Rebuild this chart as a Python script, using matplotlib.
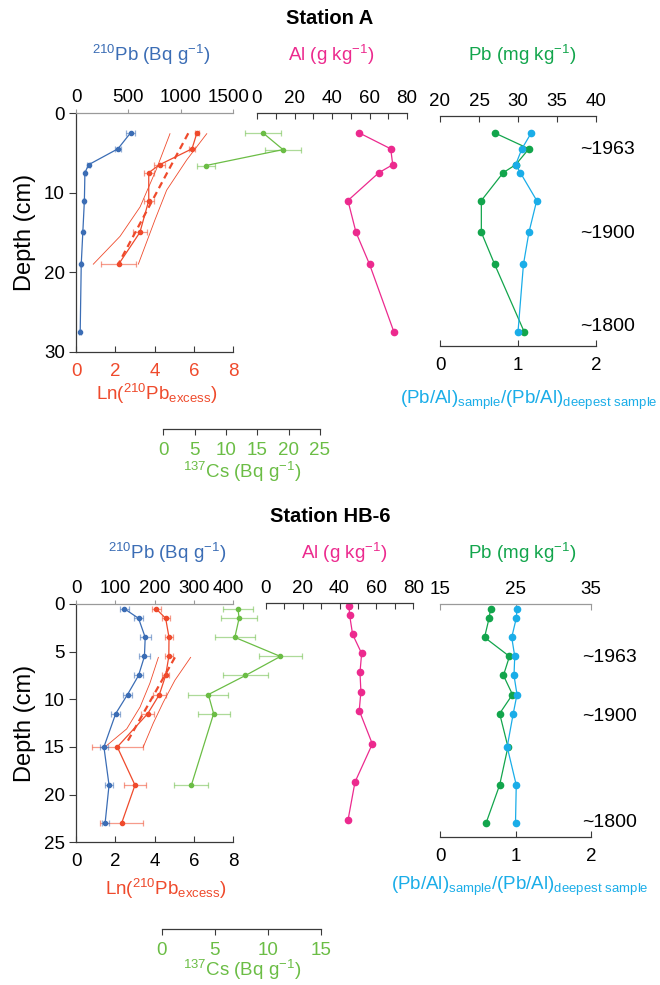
"""Sediment core depth profiles for Station A and Station HB-6."""

import matplotlib.pyplot as plt
import matplotlib.transforms as mtransforms

plt.rcParams['font.family'] = ['Liberation Sans', 'DejaVu Sans']
plt.rcParams['mathtext.default'] = 'regular'

# ---- Station A -------------------------------------------------------------
a_depth = [2.5, 4.5, 6.5, 7.5, 11, 15, 19, 27.5]
a_pb210 = [520, 400, 120, 85, 80, 65, 50, 40]
a_pb210_err = [40, 28, 15, 10, 10, 8, 8, 8]
a_ln_depth = [2.5, 4.5, 6.5, 7.5, 11, 15, 19]
a_ln = [6.15, 5.9, 4.25, 3.7, 3.7, 3.25, 2.17]
a_ln_err = [0.12, 0.15, 0.28, 0.25, 0.25, 0.37, 0.88]
a_fit_depth = [2.55, 19.0]
a_fit_ln = [5.71, 2.15]
a_band_lo_depth = [2.6, 7.0, 11.8, 15.5, 19.0]
a_band_lo = [4.78, 4.1, 3.26, 2.24, 0.88]
a_band_hi_depth = [2.6, 5.9, 9.7, 13.4, 19.0]
a_band_hi = [6.65, 5.63, 4.61, 4.02, 3.17]
a_cs_depth = [2.5, 4.6, 6.6]
a_cs = [15.9, 19.1, 6.8]
a_cs_err = [2.8, 2.9, 1.5]
a_al = [54.5, 71.3, 72.4, 65.0, 48.5, 52.8, 60.0, 73.0]
a_pb = [27.0, 31.4, 29.7, 28.1, 25.3, 25.3, 27.0, 30.8]
a_ratio = [1.17, 1.05, 0.97, 1.03, 1.24, 1.14, 1.07, 1.0]
a_dates = ['~1963', '~1900', '~1800']
a_date_depth = [4.65, 15.2, 26.85]

# ---- Station HB-6 ----------------------------------------------------------
b_depth = [0.5, 1.5, 3.5, 5.5, 7.5, 9.5, 11.5, 15, 19, 23]
b_pb210 = [123, 159, 176, 174, 159, 131, 101, 71, 84, 74]
b_pb210_err = [11, 12, 14, 13, 12, 12, 11, 10, 9, 9]
b_ln = [4.07, 4.56, 4.73, 4.72, 4.56, 4.24, 3.65, 2.10, 3.0, 2.32]
b_ln_err = [0.23, 0.2, 0.19, 0.19, 0.17, 0.32, 0.34, 1.3, 0.56, 1.1]
b_fit_depth = [5.6, 14.7]
b_fit_ln = [5.03, 2.54]
b_band_lo_depth = [5.6, 8.3, 10.8, 13.1, 14.9]
b_band_lo = [4.19, 3.76, 3.26, 2.58, 1.53]
b_band_hi_depth = [5.6, 8.0, 10.3, 12.5, 15.0]
b_band_hi = [5.83, 5.03, 4.44, 3.93, 3.42]
b_cs_depth = [0.5, 1.5, 3.5, 5.5, 7.5, 9.5, 11.5, 19]
b_cs = [7.2, 7.3, 6.9, 11.2, 7.9, 4.4, 4.9, 2.8]
b_cs_err = [1.4, 1.7, 1.9, 2.0, 2.1, 1.9, 1.5, 1.6]
b_al = [45.1, 45.5, 47.1, 52.0, 51.1, 51.6, 50.7, 57.8, 48.4, 44.6]
b_pb = [21.7, 21.5, 20.9, 24.2, 23.4, 24.6, 22.9, 24.0, 22.9, 21.1]
b_ratio = [1.02, 1.01, 0.95, 0.99, 0.98, 1.02, 0.97, 0.89, 1.01, 1.0]
b_dates = ['~1963', '~1900', '~1800']
b_date_depth = [5.63, 11.83, 22.95]

BLUE = '#3B6DB5'
RED = '#EF4A2C'
CS_GREEN = '#6BBD45'
PINK = '#EC2A8E'
PB_GREEN = '#12A54C'
CYAN = '#1AADE8'
AXIS = '#3a3a3a'
GREY_AXIS = '#9a9a9a'
FS = 13.5

W, H = 660, 985
fig = plt.figure(figsize=(W / 100, H / 100), dpi=100)


def px_box(x0, y0, x1, y1):
    return [x0 / W, 1 - y1 / H, (x1 - x0) / W, (y1 - y0) / H]


def px_text(x, y, s, **kw):
    kw.setdefault('ha', 'center')
    kw.setdefault('fontsize', FS)
    fig.text(x / W, 1 - y / H, s, va='center', **kw)


def bare_axes(rect, ylim, show, xlim, xticks, where='bottom', spine=AXIS):
    ax = fig.add_axes(rect)
    ax.patch.set_visible(False)
    for side, sp in ax.spines.items():
        sp.set_visible(side in show)
        sp.set_color(spine)
        sp.set_linewidth(0.9)
    ax.set_ylim(*ylim)
    ax.set_xlim(*xlim)
    ax.set_xticks(xticks)
    if where == 'top':
        ax.xaxis.tick_top()
    ax.tick_params(axis='x', direction='in', length=4, width=0.8,
                   pad=4 if where == 'top' else 8, labelsize=FS, color=spine)
    ax.tick_params(axis='y', left=False, labelleft=False)
    return ax


def profile(ax, x, depth, color, ms, xerr=None):
    if xerr is not None:
        ax.errorbar(x, depth, xerr=xerr, fmt='none', ecolor=color, alpha=0.55,
                    elinewidth=0.9, capsize=2.2, capthick=0.9)
    ax.plot(x, depth, color=color, lw=0.9, marker='o', ms=ms, mec=color)


def station(title, y_title, y_lab, top, bottom, dmax, dstep,
            pb210_max, pb210_step, pb210_lab_x, ln_labelcolor, ln_lab_xy,
            cs_x, cs_max, cs_axis_y, y_cs_lab, al_box, al_ylim, al_lab_x,
            r_box, r_ylim, pb_lim, pb_ticks, pb_spine, y_ratio_lab, ratio_lab_x,
            date_x, d):
    ylim = (dmax, 0)
    px_text(330, y_title, title, fontsize=14.5, fontweight='bold')

    # Ln(210Pb excess) with fit line and confidence band, depth axis on the left
    ln = bare_axes(px_box(76, top, 233.3, bottom), ylim, ['left', 'bottom'],
                   (0, 8), range(0, 9, 2))
    ln.tick_params(axis='x', labelcolor=ln_labelcolor)
    ln.set_yticks(range(0, dmax + 1, dstep))
    ln.tick_params(axis='y', left=True, labelleft=True, direction='out',
                   length=5, width=0.8, pad=3, labelsize=FS, color=AXIS)
    profile(ln, d['ln'], d['ln_depth'], RED, 3, d['ln_err'])
    ln.plot(d['fit_ln'], d['fit_depth'], color=RED, lw=1.6, ls=(0, (3, 2)))
    ln.plot(d['band_lo'], d['band_lo_depth'], color=RED, lw=0.6)
    ln.plot(d['band_hi'], d['band_hi_depth'], color=RED, lw=0.6)

    # total 210Pb on the top axis
    pb210 = bare_axes(px_box(76, top, 233.3, bottom), ylim, ['top'],
                      (0, pb210_max), range(0, pb210_max + 1, pb210_step),
                      where='top', spine=GREY_AXIS)
    pb210.tick_params(axis='x', direction='out', length=3, pad=2)
    profile(pb210, d['pb210'], d['depth'], BLUE, 3, d['pb210_err'])
    # pull the last top label back a little so it clears the Al scale
    last = pb210.get_xticklabels()[-1]
    last.set_transform(last.get_transform() + mtransforms.ScaledTranslation(
        -5 / 100, 0, fig.dpi_scale_trans))

    # 137Cs with its own scale hanging below the panel
    cs = bare_axes(px_box(cs_x[0], top, cs_x[1], bottom), ylim, ['bottom'],
                   (0, cs_max), range(0, cs_max + 1, 5))
    cs.spines['bottom'].set_position(('outward', (cs_axis_y - bottom) * 0.72))
    cs.tick_params(axis='x', direction='out', pad=5, labelcolor=CS_GREEN)
    profile(cs, d['cs'], d['cs_depth'], CS_GREEN, 3, d['cs_err'])

    # Al
    al = bare_axes(px_box(*al_box), al_ylim, ['top'], (0, 80), range(0, 81, 20),
                   where='top')
    al.set_xticks(range(10, 80, 20), minor=True)
    al.tick_params(axis='x', which='minor', direction='in', length=4,
                   width=0.8, color=AXIS)
    profile(al, d['al'], d['depth'], PINK, 4.5)

    # Pb and normalised Pb/Al
    pb = bare_axes(px_box(*r_box), r_ylim, ['top'], pb_lim, pb_ticks,
                   where='top', spine=pb_spine)
    profile(pb, d['pb'], d['depth'], PB_GREEN, 4.5)
    ratio = bare_axes(px_box(*r_box), r_ylim, ['bottom'], (0, 2), [0, 1, 2])
    profile(ratio, d['ratio'], d['depth'], CYAN, 4.5)
    for label, dep in zip(d['dates'], d['date_depth']):
        ratio.text(date_x, dep, label, fontsize=14, va='center', ha='left',
                   transform=ratio.get_yaxis_transform())

    px_text(pb210_lab_x, y_lab, '$^{210}$Pb (Bq g$^{-1}$)', color=BLUE)
    px_text(al_lab_x, y_lab, 'Al (g kg$^{-1}$)', color=PINK)
    px_text(522, y_lab, 'Pb (mg kg$^{-1}$)', color=PB_GREEN)
    px_text(25, (top + bottom) / 2, 'Depth (cm)', fontsize=17, rotation=90)
    px_text(*ln_lab_xy, 'Ln($^{210}$Pb$_{excess}$)', color=RED)
    px_text(242, y_cs_lab, '$^{137}$Cs (Bq g$^{-1}$)', color=CS_GREEN)
    px_text(ratio_lab_x, y_ratio_lab,
            '(Pb/Al)$_{sample}$/(Pb/Al)$_{deepest\\ sample}$', color=CYAN)


station('Station A', 18, 55, 113, 351.7, 30, 10,
        1500, 500, 151, RED, (157, 394),
        (163.3, 320), 25, 429.3, 472, (257, 113, 407, 351.7), (30, 0), 331,
        (440, 116, 596, 346), (29.27, 0.38), (20, 40), range(20, 41, 5), AXIS,
        400, 529, 0.897,
        dict(depth=a_depth, pb210=a_pb210, pb210_err=a_pb210_err,
             ln_depth=a_ln_depth, ln=a_ln, ln_err=a_ln_err,
             fit_depth=a_fit_depth, fit_ln=a_fit_ln,
             band_lo_depth=a_band_lo_depth, band_lo=a_band_lo,
             band_hi_depth=a_band_hi_depth, band_hi=a_band_hi,
             cs_depth=a_cs_depth, cs=a_cs, cs_err=a_cs_err,
             al=a_al, pb=a_pb, ratio=a_ratio,
             dates=a_dates, date_depth=a_date_depth))

station('Station HB-6', 517, 553, 604, 842.3, 25, 5,
        400, 100, 167, 'black', (166, 889),
        (161.7, 320.7), 15, 929.3, 970, (265.7, 602.7, 413.3, 842.3),
        (25.32, 0.18), 344,
        (440, 604, 591, 837.3), (24.49, 0), (15, 35), [15, 25, 35], GREY_AXIS,
        886, 520, 0.938,
        dict(depth=b_depth, pb210=b_pb210, pb210_err=b_pb210_err,
             ln_depth=b_depth, ln=b_ln, ln_err=b_ln_err,
             fit_depth=b_fit_depth, fit_ln=b_fit_ln,
             band_lo_depth=b_band_lo_depth, band_lo=b_band_lo,
             band_hi_depth=b_band_hi_depth, band_hi=b_band_hi,
             cs_depth=b_cs_depth, cs=b_cs, cs_err=b_cs_err,
             al=b_al, pb=b_pb, ratio=b_ratio,
             dates=b_dates, date_depth=b_date_depth))

fig.savefig('out.png', dpi=100)
